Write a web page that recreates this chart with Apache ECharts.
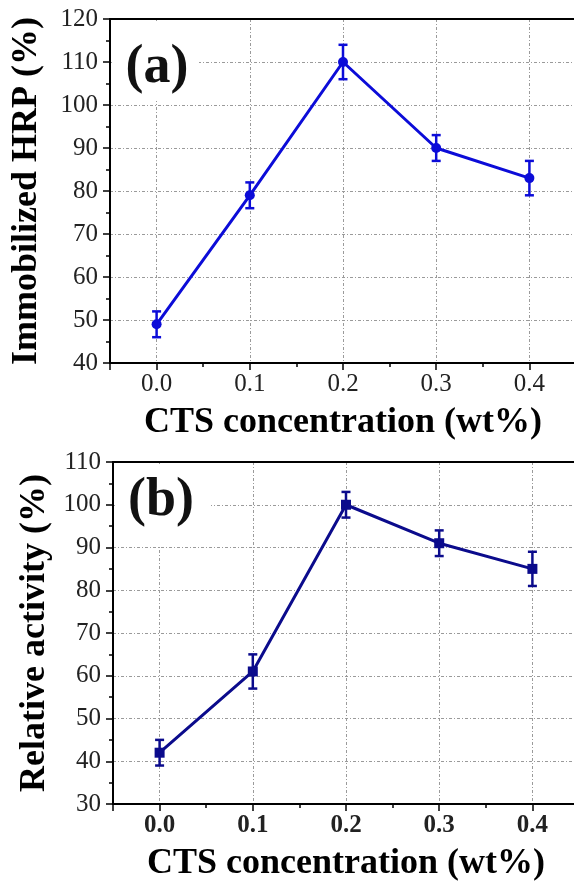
<!DOCTYPE html>
<html>
<head>
<meta charset="utf-8">
<script src="https://cdn.jsdelivr.net/npm/echarts@6/dist/echarts.min.js"></script>
<style>
  html, body { margin: 0; padding: 0; background: #fff; }
  #chart { width: 574px; height: 881px; }
</style>
</head>
<body>
<div id="chart"></div>
<script>
// CTS concentration (wt%)
const ctsLevels = [0.0, 0.1, 0.2, 0.3, 0.4];
// (a) immobilized HRP (%) with error
const hrpValues = [49, 79, 110, 90, 83];
const hrpErrors = [3, 3, 4, 3, 4];
// (b) relative activity (%) with error
const activityValues = [42, 61, 100, 91, 85];
const activityErrors = [3, 4, 3, 3, 4];

const FONT = '"Liberation Serif", "Times New Roman", serif';
const GRID_COLOR = '#9a9a9a';

const chart = echarts.init(document.getElementById('chart'));

const pairs = (vals) => ctsLevels.map((x, i) => [x, vals[i]]);
const bars = (vals, errs) => ctsLevels.map((x, i) => [x, vals[i] - errs[i], vals[i] + errs[i]]);

function errorBarItem(params, api) {
  const x = api.value(0);
  const lo = api.coord([x, api.value(1)]);
  const hi = api.coord([x, api.value(2)]);
  const half = 4.5;
  const style = { stroke: api.visual('color'), lineWidth: 2.5 };
  return {
    type: 'group',
    children: [
      { type: 'line', shape: { x1: lo[0], y1: lo[1], x2: hi[0], y2: hi[1] }, style },
      { type: 'line', shape: { x1: lo[0] - half, y1: lo[1], x2: lo[0] + half, y2: lo[1] }, style },
      { type: 'line', shape: { x1: hi[0] - half, y1: hi[1], x2: hi[0] + half, y2: hi[1] }, style },
    ],
  };
}

function majorX(gridIndex, boldLabels) {
  return {
    gridIndex,
    type: 'value',
    min: -0.05,
    max: 0.45,
    position: 'bottom',
    axisLine: { show: true, onZero: false, lineStyle: { color: '#000', width: 2 } },
    axisTick: { show: true, length: 7, lineStyle: { color: '#000', width: 1.5 } },
    axisLabel: {
      margin: 9,
      fontFamily: FONT,
      fontSize: 25,
      fontWeight: boldLabels ? 'bold' : 'normal',
      color: '#222',
      formatter: (v) => (v < -0.001 || v > 0.401 ? '' : v.toFixed(1)),
    },
    splitLine: { show: true, lineStyle: { color: GRID_COLOR, width: 1, type: [3, 2, 1, 2] } },
    name: 'CTS concentration (wt%)',
    nameLocation: 'middle',
    nameGap: 42,
    nameTextStyle: { fontFamily: FONT, fontWeight: 'bold', fontSize: 36, color: '#000' },
  };
}

// minor ticks every 0.05
function minorX(gridIndex) {
  return {
    gridIndex,
    type: 'value',
    min: -0.05,
    max: 0.45,
    interval: 0.05,
    position: 'bottom',
    axisLine: { show: false, onZero: false },
    axisTick: { show: true, length: 4, lineStyle: { color: '#000', width: 1.5 } },
    axisLabel: { show: false },
    splitLine: { show: false },
  };
}

// top frame line only
function frameX(gridIndex) {
  return {
    gridIndex,
    type: 'value',
    min: -0.05,
    max: 0.45,
    position: 'top',
    axisLine: { show: true, onZero: false, lineStyle: { color: '#000', width: 2 } },
    axisTick: { show: false },
    axisLabel: { show: false },
    splitLine: { show: false },
  };
}

function valueY(gridIndex, min, max, title, gap) {
  return {
    gridIndex,
    type: 'value',
    min,
    max,
    interval: 10,
    axisLine: { show: true, onZero: false, lineStyle: { color: '#000', width: 2 } },
    axisTick: { show: true, length: 7, lineStyle: { color: '#000', width: 1.5 } },
    minorTick: { show: true, splitNumber: 2, length: 4, lineStyle: { color: '#000', width: 1.5 } },
    axisLabel: { margin: 12, fontFamily: FONT, fontSize: 25, color: '#222' },
    splitLine: { show: true, lineStyle: { color: GRID_COLOR, width: 1, type: [3, 2, 1, 2] } },
    name: title,
    nameLocation: 'middle',
    nameGap: gap,
    nameTextStyle: { fontFamily: FONT, fontWeight: 'bold', fontSize: 36, color: '#000' },
  };
}

const option = {
  animation: false,
  backgroundColor: '#fff',
  grid: [
    { left: 110, top: 19, width: 466, height: 344, outerBoundsMode: 'none', containLabel: false },
    { left: 113, top: 462, width: 466, height: 342, outerBoundsMode: 'none', containLabel: false },
  ],
  xAxis: [majorX(0, false), minorX(0), frameX(0), majorX(1, true), minorX(1), frameX(1)],
  yAxis: [
    valueY(0, 40, 120, 'Immobilized HRP (%)', 65),
    valueY(1, 30, 110, 'Relative activity (%)', 60),
  ],
  graphic: [
    { type: 'rect', z: 50, shape: { x: 112, y: 21, width: 87, height: 80 }, style: { fill: '#fff' } },
    { type: 'text', z: 51, x: 157, y: 68, style: { text: '(a)', font: 'bold 54px "Liberation Serif"', align: 'center', verticalAlign: 'middle', fill: '#111' } },
    { type: 'rect', z: 50, shape: { x: 115, y: 464, width: 96, height: 81 }, style: { fill: '#fff' } },
    { type: 'text', z: 51, x: 161, y: 501, style: { text: '(b)', font: 'bold 54px "Liberation Serif"', align: 'center', verticalAlign: 'middle', fill: '#111' } },
  ],
  series: [
    {
      type: 'line',
      xAxisIndex: 0,
      yAxisIndex: 0,
      data: pairs(hrpValues),
      symbol: 'circle',
      symbolSize: 10,
      itemStyle: { color: '#0c0cd8' },
      lineStyle: { color: '#0c0cd8', width: 3 },
      z: 3,
    },
    {
      type: 'custom',
      xAxisIndex: 0,
      yAxisIndex: 0,
      data: bars(hrpValues, hrpErrors),
      renderItem: errorBarItem,
      itemStyle: { color: '#0c0cd8' },
      encode: { x: 0, y: [1, 2] },
      z: 4,
    },
    {
      type: 'line',
      xAxisIndex: 3,
      yAxisIndex: 1,
      data: pairs(activityValues),
      symbol: 'rect',
      symbolSize: 10,
      itemStyle: { color: '#0b0b8c' },
      lineStyle: { color: '#0b0b8c', width: 3 },
      z: 3,
    },
    {
      type: 'custom',
      xAxisIndex: 3,
      yAxisIndex: 1,
      data: bars(activityValues, activityErrors),
      renderItem: errorBarItem,
      itemStyle: { color: '#0b0b8c' },
      encode: { x: 0, y: [1, 2] },
      z: 4,
    },
  ],
};

chart.setOption(option);
</script>
</body>
</html>
